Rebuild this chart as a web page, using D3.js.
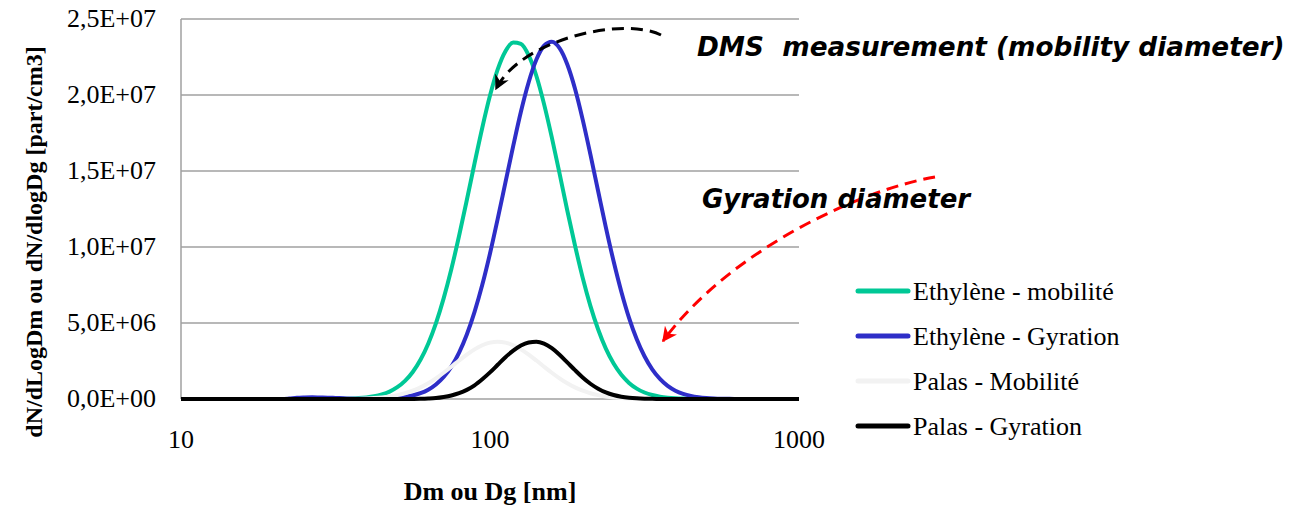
<!DOCTYPE html>
<html>
<head>
<meta charset="utf-8">
<script src="https://cdn.jsdelivr.net/npm/d3@7"></script>
<style>
  body { margin: 0; background: #fff; }
  svg { display: block; }
</style>
</head>
<body>
<svg id="chart" width="1290" height="506"></svg>
<script>
'use strict';

// diameters [nm], log spaced (40 per decade)
const diameters = [
    10.00, 10.59, 11.22, 11.89, 12.59, 13.34, 14.13, 14.96, 15.85, 16.79,
    17.78, 18.84, 19.95, 21.13, 22.39, 23.71, 25.12, 26.61, 28.18, 29.85,
    31.62, 33.50, 35.48, 37.58, 39.81, 42.17, 44.67, 47.32, 50.12, 53.09,
    56.23, 59.57, 63.10, 66.83, 70.79, 74.99, 79.43, 84.14, 89.13, 94.41,
    100.0, 105.9, 112.2, 118.9, 125.9, 133.4, 141.3, 149.6, 158.5, 167.9,
    177.8, 188.4, 199.5, 211.3, 223.9, 237.1, 251.2, 266.1, 281.8, 298.5,
    316.2, 335.0, 354.8, 375.8, 398.1, 421.7, 446.7, 473.2, 501.2, 530.9,
    562.3, 595.7, 631.0, 668.3, 707.9, 749.9, 794.3, 841.4, 891.3, 944.1,
    1000
];

const ethyleneMobilite = [
    0, 0, 0, 0, 0, 0, 0, 0, 0, 0,
    0, 0, 0, 0, 0, 0, 0, 0, 2e3, 4e3,
    8.8e3, 1.7e4, 3.2e4, 5.9e4, 1.04e5, 1.79e5, 3.01e5, 4.89e5, 7.75e5, 1.19e6,
    1.78e6, 2.58e6, 3.64e6, 4.98e6, 6.62e6, 8.55e6, 1.074e7, 1.309e7, 1.551e7, 1.785e7,
    1.996e7, 2.168e7, 2.288e7, 2.345e7, 2.336e7, 2.26e7, 2.125e7, 1.94e7, 1.721e7, 1.484e7,
    1.242e7, 1.01e7, 7.98e6, 6.13e6, 4.57e6, 3.31e6, 2.33e6, 1.59e6, 1.06e6, 6.84e5,
    4.29e5, 2.61e5, 1.54e5, 8.9e4, 5.0e4, 2.7e4, 1.4e4, 7e3, 0, 0,
    0, 0, 0, 0, 0, 0, 0, 0, 0, 0,
    0
];

const ethyleneGyration = [
    0, 0, 0, 0, 0, 0, 0, 0, 0, 0,
    0, 0, 0, 0, 3e4, 8e4, 1.0e5, 1.1e5, 1.0e5, 9e4,
    7e4, 5e4, 3e4, 1.5e4, 1.0e4, 1.2e4, 2.3e4, 4.3e4, 7.7e4, 1.36e5,
    2.31e5, 3.81e5, 6.13e5, 9.57e5, 1.45e6, 2.13e6, 3.05e6, 4.24e6, 5.73e6, 7.51e6,
    9.57e6, 1.185e7, 1.425e7, 1.665e7, 1.89e7, 2.084e7, 2.233e7, 2.324e7, 2.35e7, 2.308e7,
    2.202e7, 2.041e7, 1.838e7, 1.609e7, 1.367e7, 1.129e7, 9.06e6, 7.06e6, 5.34e6, 3.93e6,
    2.81e6, 1.95e6, 1.32e6, 8.62e5, 5.48e5, 3.39e5, 2.04e5, 1.19e5, 6.7e4, 3.7e4,
    2.0e4, 1.0e4, 5e3, 0, 0, 0, 0, 0, 0, 0,
    0
];

const palasMobilite = [
    0, 0, 0, 0, 0, 0, 0, 0, 0, 0,
    0, 0, 0, 0, 0, 0, 0, 0, 0, 0,
    0, 6e3, 1.2e4, 2.2e4, 3.8e4, 6.4e4, 1.04e5, 1.66e5, 2.55e5, 3.8e5,
    5.48e5, 7.65e5, 1.036e6, 1.359e6, 1.726e6, 2.124e6, 2.531e6, 2.921e6, 3.266e6, 3.537e6,
    3.71e6, 3.77e6, 3.71e6, 3.537e6, 3.266e6, 2.921e6, 2.531e6, 2.124e6, 1.726e6, 1.359e6,
    1.036e6, 7.65e5, 5.48e5, 3.8e5, 2.55e5, 1.66e5, 1.04e5, 6.4e4, 3.8e4, 2.2e4,
    1.2e4, 6e3, 0, 0, 0, 0, 0, 0, 0, 0,
    0, 0, 0, 0, 0, 0, 0, 0, 0, 0,
    0
];

const palasGyration = [
    0, 0, 0, 0, 0, 0, 0, 0, 0, 0,
    0, 0, 0, 0, 0, 0, 0, 0, 0, 0,
    0, 0, 0, 0, 0, 0, 0, 0, 0, 0,
    5.8e3, 1.28e4, 2.9e4, 6.0e4, 1.3e5, 2.3e5, 3.8e5, 6.0e5, 9.0e5, 1.3e6,
    1.75e6, 2.25e6, 2.75e6, 3.18e6, 3.52e6, 3.72e6, 3.77e6, 3.641e6, 3.342e6, 2.913e6,
    2.411e6, 1.896e6, 1.415e6, 1.003e6, 6.75e5, 4.32e5, 2.62e5, 1.51e5, 8.3e4, 4.3e4,
    2.1e4, 1.0e4, 4.5e3, 0, 0, 0, 0, 0, 0, 0,
    0, 0, 0, 0, 0, 0, 0, 0, 0, 0,
    0
];

const seriesNames = ['Ethylène - mobilité', 'Ethylène - Gyration', 'Palas - Mobilité', 'Palas - Gyration'];
const seriesColors = ['#00c896', '#2e2ec8', '#f2f2f2', '#000000'];
const yTicks = [0, 5e6, 1e7, 1.5e7, 2e7, 2.5e7];
const xTicks = [10, 100, 1000];

(function () {
    const svg = d3.select('#chart');
    const left = 181, right = 799, top = 19, bottom = 399;

    const x = d3.scaleLog().domain([10, 1000]).range([left, right]);
    const y = d3.scaleLinear().domain([0, 2.5e7]).range([bottom, top]);

    // excel style "2,5E+07"
    function sci(v) {
        if (v === 0) return '0,0E+00';
        const e = Math.floor(Math.log10(v));
        const m = v / Math.pow(10, e);
        return m.toFixed(1).replace('.', ',') + 'E+' + String(e).padStart(2, '0');
    }

    // grid
    svg.append('g').selectAll('line')
        .data(yTicks)
        .enter().append('line')
        .attr('x1', left).attr('x2', right)
        .attr('y1', d => y(d)).attr('y2', d => y(d))
        .attr('stroke', '#a0a0a0').attr('stroke-width', 1.5);

    // y axis line
    svg.append('line')
        .attr('x1', left).attr('x2', left)
        .attr('y1', top).attr('y2', bottom)
        .attr('stroke', '#a0a0a0').attr('stroke-width', 1.5);

    // y tick labels
    svg.append('g').selectAll('text')
        .data(yTicks)
        .enter().append('text')
        .attr('x', 156).attr('y', d => y(d) + 8)
        .attr('text-anchor', 'end')
        .style('font-family', '"Liberation Serif", "Times New Roman", serif')
        .style('font-size', '26px')
        .text(sci);

    // x tick labels
    svg.append('g').selectAll('text')
        .data(xTicks)
        .enter().append('text')
        .attr('x', d => x(d)).attr('y', 448)
        .attr('text-anchor', 'middle')
        .style('font-family', '"Liberation Serif", "Times New Roman", serif')
        .style('font-size', '26px')
        .text(d => d);

    // axis titles
    svg.append('text')
        .attr('x', 490).attr('y', 500)
        .attr('text-anchor', 'middle')
        .style('font-family', '"Liberation Serif", "Times New Roman", serif')
        .style('font-size', '26px').style('font-weight', 'bold')
        .text('Dm ou Dg [nm]');

    svg.append('text')
        .attr('transform', 'translate(42,242) rotate(-90)')
        .attr('text-anchor', 'middle')
        .style('font-family', '"Liberation Serif", "Times New Roman", serif')
        .style('font-size', '24px').style('font-weight', 'bold')
        .text('dN/dLogDm ou dN/dlogDg [part/cm3]');

    // curves
    const allSeries = [ethyleneMobilite, ethyleneGyration, palasMobilite, palasGyration];
    const line = d3.line()
        .x((d, i) => x(diameters[i]))
        .y(d => y(d))
        .curve(d3.curveMonotoneX);

    svg.append('g').selectAll('path')
        .data(allSeries)
        .enter().append('path')
        .attr('d', d => line(d))
        .attr('fill', 'none')
        .attr('stroke', (d, i) => seriesColors[i])
        .attr('stroke-width', 4)
        .attr('stroke-linejoin', 'round');

    // legend
    const legend = svg.append('g').selectAll('g')
        .data(seriesNames)
        .enter().append('g')
        .attr('transform', (d, i) => 'translate(858,' + (291 + i * 45) + ')');
    legend.append('line')
        .attr('x1', 0).attr('x2', 50)
        .attr('stroke', (d, i) => seriesColors[i])
        .attr('stroke-width', 5)
        .attr('stroke-linecap', 'round');
    legend.append('text')
        .attr('x', 55).attr('y', 9)
        .style('font-family', '"Liberation Serif", "Times New Roman", serif')
        .style('font-size', '26px')
        .text(d => d);

    // annotation arrows
    const defs = svg.append('defs');
    [['arrowBlack', '#000'], ['arrowRed', '#ff0000']].forEach(function (m) {
        defs.append('marker')
            .attr('id', m[0])
            .attr('viewBox', '0 0 10 10')
            .attr('refX', 9).attr('refY', 5)
            .attr('markerWidth', 5).attr('markerHeight', 5)
            .attr('markerUnits', 'strokeWidth')
            .attr('orient', 'auto')
            .append('path')
            .attr('d', 'M0,0 L10,5 L0,10 L3,5 z')
            .attr('fill', m[1]);
    });

    svg.append('path')
        .attr('d', 'M661,35 C622,16 520,40 496,89')
        .attr('fill', 'none')
        .attr('stroke', '#000').attr('stroke-width', 3)
        .attr('stroke-dasharray', '12,7')
        .attr('marker-end', 'url(#arrowBlack)');

    svg.append('path')
        .attr('d', 'M935,177 C860,190 730,250 663,341')
        .attr('fill', 'none')
        .attr('stroke', '#ff0000').attr('stroke-width', 3)
        .attr('stroke-dasharray', '12,7')
        .attr('marker-end', 'url(#arrowRed)');

    svg.append('text')
        .attr('x', 697).attr('y', 56)
        .attr('xml:space', 'preserve')
        .style('white-space', 'pre')
        .style('font-family', '"DejaVu Sans", Verdana, sans-serif')
        .style('font-size', '26.3px').style('font-weight', 'bold').style('font-style', 'italic')
        .text('DMS  measurement (mobility diameter)');

    svg.append('text')
        .attr('x', 702).attr('y', 208)
        .style('font-family', '"DejaVu Sans", Verdana, sans-serif')
        .style('font-size', '26px').style('font-weight', 'bold').style('font-style', 'italic')
        .text('Gyration diameter');
})();
</script>
</body>
</html>
